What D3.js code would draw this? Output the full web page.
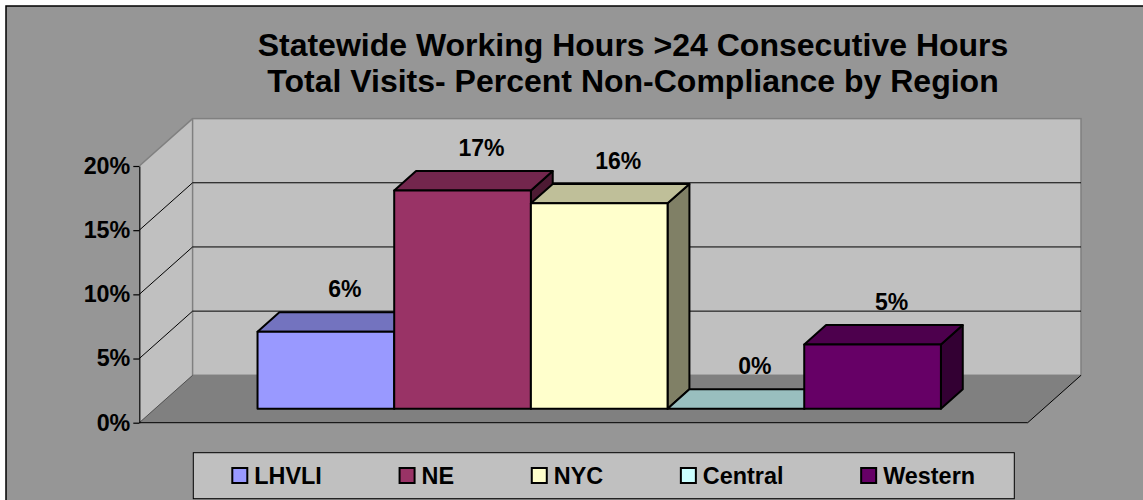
<!DOCTYPE html>
<html>
<head>
<meta charset="utf-8">
<script src="https://cdn.jsdelivr.net/npm/d3@7"></script>
<style>
  html, body { margin: 0; padding: 0; background: #ffffff; }
  svg { display: block; }
  text { font-family: "Liberation Sans", Arial, sans-serif; font-weight: bold; fill: #000; }
</style>
</head>
<body>
<svg id="chart" width="1143" height="500"></svg>
<script>
// ---- data ----
const categories = ["LHVLI", "NE", "NYC", "Central", "Western"];
const values = [0.06, 0.17, 0.16, 0.00, 0.05];
const colors = ["#9999FF", "#993366", "#FFFFCC", "#CCFFFF", "#660066"];
const yTicks = [0, 0.05, 0.10, 0.15, 0.20];
const titleLines = ["Statewide Working Hours >24 Consecutive Hours",
                    "Total Visits- Percent Non-Compliance by Region"];

// ---- layout ----
const svg = d3.select("#chart");
const X0 = 139.3, X1 = 1027.7;     // front plane x extent
const Y0 = 422.7, Y1 = 166;        // front plane y for 0% and 20%
const D = { dx: 53.3, dy: -47.4 }; // depth offset
const f0 = 0.295, f1 = 0.705;      // bar depth fractions

const x = d3.scaleBand().domain(categories).range([X0, X1]).paddingInner(0).paddingOuter(0.75);
const y = d3.scaleLinear().domain([0, 0.2]).range([Y0, Y1]);
const fmt = d3.format(".0%");

// chart area
svg.append("rect").attr("x", 6).attr("y", 6).attr("width", 1150).attr("height", 510)
  .attr("fill", "#969696").attr("stroke", "#000").attr("stroke-width", 1.5);

// title
const title = svg.append("g");
titleLines.forEach((t, i) => {
  title.append("text").attr("x", 633).attr("y", 56 + i * 36)
    .attr("text-anchor", "middle").attr("font-size", 32).text(t);
});

// walls
const yTop = y(0.2), yBot = y(0);
svg.append("polygon")
  .attr("points", [[X0, yTop], [X0 + D.dx, yTop + D.dy], [X0 + D.dx, yBot + D.dy], [X0, yBot]].join(" "))
  .attr("fill", "#C0C0C0");
svg.append("rect")
  .attr("x", X0 + D.dx).attr("y", yTop + D.dy)
  .attr("width", X1 - X0).attr("height", yBot - yTop)
  .attr("fill", "#C0C0C0").attr("stroke", "#808080").attr("stroke-width", 1.5);
svg.append("line")
  .attr("x1", X0).attr("y1", yTop).attr("x2", X0 + D.dx).attr("y2", yTop + D.dy)
  .attr("stroke", "#808080").attr("stroke-width", 1.5);
// floor
svg.append("polygon")
  .attr("points", [[X0, yBot], [X1, yBot], [X1 + D.dx, yBot + D.dy], [X0 + D.dx, yBot + D.dy]].join(" "))
  .attr("fill", "#808080");
svg.append("polyline")
  .attr("points", [[X0, yBot], [X1, yBot], [X1 + D.dx, yBot + D.dy]].join(" "))
  .attr("fill", "none").attr("stroke", "#000").attr("stroke-width", 1);
svg.append("line")
  .attr("x1", X0).attr("y1", yBot).attr("x2", X0 + D.dx).attr("y2", yBot + D.dy)
  .attr("stroke", "#404040").attr("stroke-width", 0.8);

// gridlines
const grid = svg.append("g");
yTicks.filter(v => v > 0 && v < 0.2).forEach(v => {
  const yy = y(v);
  grid.append("polyline")
    .attr("points", [[X0, yy], [X0 + D.dx, yy + D.dy], [X1 + D.dx, yy + D.dy]].join(" "))
    .attr("fill", "none").attr("stroke", "#000").attr("stroke-width", 1);
});

// y axis
const axis = svg.append("g").attr("transform", `translate(${X0},0)`)
  .call(d3.axisLeft(y).tickValues(yTicks).tickFormat(fmt).tickSize(6).tickSizeOuter(0).tickPadding(3));
axis.select(".domain").attr("stroke", "#000").attr("stroke-width", 1.2);
axis.selectAll(".tick line").attr("stroke", "#000").attr("stroke-width", 1.2);
axis.selectAll(".tick text").attr("font-size", 23.3).attr("font-family", "'Liberation Sans', Arial, sans-serif")
  .attr("font-weight", "bold").attr("fill", "#000");

// bars
const shade = (c, k) => { const r = d3.rgb(c); return d3.rgb(r.r * k, r.g * k, r.b * k).formatHex(); };
const bw = x.bandwidth();
const ddx = D.dx * (f1 - f0), ddy = D.dy * (f1 - f0);
const bars = svg.append("g").attr("stroke", "#000").attr("stroke-width", 2).attr("stroke-linejoin", "round");
categories.forEach((cat, i) => {
  const xa = x(cat) + D.dx * f0, xb = xa + bw;
  const yb = y(0) + D.dy * f0, yt = y(values[i]) + D.dy * f0;
  const g = bars.append("g");
  g.append("polygon")
    .attr("points", [[xb, yb], [xb, yt], [xb + ddx, yt + ddy], [xb + ddx, yb + ddy]].join(" "))
    .attr("fill", shade(colors[i], 0.5));
  g.append("polygon")
    .attr("points", [[xa, yt], [xb, yt], [xb + ddx, yt + ddy], [xa + ddx, yt + ddy]].join(" "))
    .attr("fill", shade(colors[i], 0.75));
  g.append("rect").attr("x", xa).attr("y", yt).attr("width", bw).attr("height", yb - yt)
    .attr("fill", colors[i]);
});

// value labels
categories.forEach((cat, i) => {
  svg.append("text")
    .attr("x", x(cat) + bw / 2 + D.dx * 0.5 + 8)
    .attr("y", y(values[i]) + D.dy * 0.5 - 33)
    .attr("text-anchor", "middle").attr("dominant-baseline", "central")
    .attr("font-size", 23).text(fmt(values[i]));
});

// legend
const LX = 193.3, LY = 452.7, LW = 821, LH = 46;
svg.append("rect").attr("x", LX).attr("y", LY).attr("width", LW).attr("height", LH)
  .attr("fill", "#C0C0C0").attr("stroke", "#000").attr("stroke-width", 1);
let cx = LX + 39;
const gap = 77.7;
categories.forEach((cat, i) => {
  svg.append("rect").attr("x", cx).attr("y", 468).attr("width", 15).attr("height", 15)
    .attr("fill", colors[i]).attr("stroke", "#000").attr("stroke-width", 2);
  const t = svg.append("text").attr("x", cx + 22).attr("y", 476)
    .attr("dominant-baseline", "central").attr("font-size", 23.4).text(cat);
  cx += 22 + t.node().getComputedTextLength() + gap;
});
</script>
</body>
</html>
